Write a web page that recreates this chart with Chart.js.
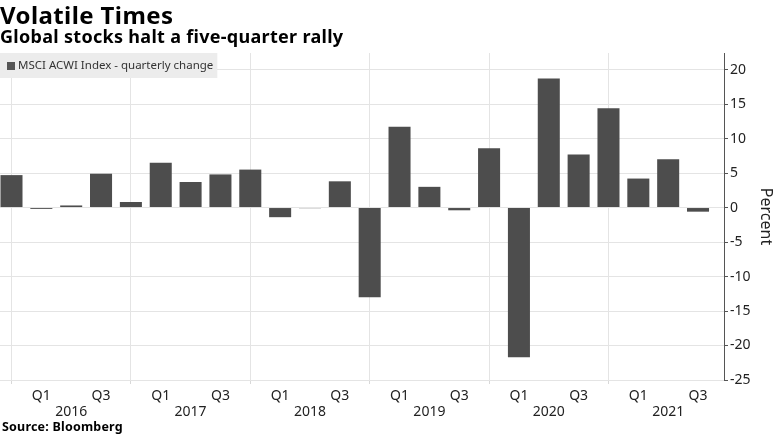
<!DOCTYPE html>
<html>
<head>
<meta charset="utf-8">
<script src="https://cdn.jsdelivr.net/npm/chart.js@4.4.1/dist/chart.umd.min.js"></script>
<style>
  body { margin: 0; background: #fff; }
  #wrap { position: relative; width: 775px; height: 435px; overflow: hidden; }
  #chart { position: absolute; left: 0; top: 0; }
  .txt { position: absolute; left: 0; line-height: 1; white-space: nowrap; font-family: "Noto Sans", sans-serif; font-weight: bold; color: #000; }
  #title { top: 3px; font-size: 24px; letter-spacing: 0.4px; }
  #subtitle { top: 27px; font-size: 18px; letter-spacing: 0.3px; }
  #source { top: 421px; left: 2px; font-size: 12.5px; letter-spacing: 0.2px; }
</style>
</head>
<body>
<div id="wrap">
  <canvas id="chart" width="775" height="435"></canvas>
  <div class="txt" id="title">Volatile Times</div>
  <div class="txt" id="subtitle">Global stocks halt a five-quarter rally</div>
  <div class="txt" id="source">Source: Bloomberg</div>
</div>
<script>
const periods = [
  '2015 Q4',
  '2016 Q1', '2016 Q2', '2016 Q3', '2016 Q4',
  '2017 Q1', '2017 Q2', '2017 Q3', '2017 Q4',
  '2018 Q1', '2018 Q2', '2018 Q3', '2018 Q4',
  '2019 Q1', '2019 Q2', '2019 Q3', '2019 Q4',
  '2020 Q1', '2020 Q2', '2020 Q3', '2020 Q4',
  '2021 Q1', '2021 Q2', '2021 Q3'
];
const changes = [
  4.7,
  -0.2, 0.3, 4.9, 0.8,
  6.5, 3.7, 4.8, 5.5,
  -1.4, -0.1, 3.8, -13.0,
  11.7, 3.0, -0.4, 8.6,
  -21.7, 18.7, 7.7, 14.4,
  4.2, 7.0, -0.6
];
const yTicks = [-25, -20, -15, -10, -5, 0, 5, 10, 15, 20];
const seriesName = 'MSCI ACWI Index - quarterly change';

const gridColor = '#e4e4e4';
const barColor = '#4d4d4d';

// legend drawn as a grey box sitting inside the plot, top-left
const legendBox = {
  id: 'legendBox',
  beforeDatasetsDraw(chart) {
    const { ctx, chartArea } = chart;
    const ds = chart.data.datasets[0];
    ctx.save();
    ctx.font = '11.5px "Noto Sans"';
    const w = ctx.measureText(ds.label).width + 22;
    ctx.fillStyle = '#ececec';
    ctx.fillRect(chartArea.left, chartArea.top, w, 25);
    ctx.fillStyle = '#555';
    ctx.fillRect(chartArea.left + 7, chartArea.top + 9, 8, 8);
    ctx.fillStyle = '#333';
    ctx.textBaseline = 'middle';
    ctx.fillText(ds.label, chartArea.left + 18, chartArea.top + 13);
    ctx.restore();
  }
};

new Chart(document.getElementById('chart'), {
  type: 'bar',
  data: {
    datasets: [{
      label: seriesName,
      data: changes.map((v, i) => ({ x: i, y: v })),
      backgroundColor: barColor,
      borderWidth: 0,
      barPercentage: 0.9,
      categoryPercentage: 0.82
    }]
  },
  options: {
    responsive: false,
    animation: false,
    layout: { padding: { top: 53, right: 0, bottom: 15, left: 0 } },
    plugins: {
      legend: { display: false },
      tooltip: { enabled: false }
    },
    scales: {
      x: {
        type: 'linear',
        offset: false,
        min: -0.385,
        max: 23.87,
        afterBuildTicks: scale => {
          scale.ticks = periods.map((p, i) => ({ value: i }));
        },
        afterFit: scale => { scale.height = 40; },
        border: { display: false },
        grid: {
          offset: false,
          color: c => (c.tick && c.tick.value % 4 === 0) ? gridColor : 'rgba(0,0,0,0)',
          tickColor: c => (c.tick && c.tick.value % 4 === 0) ? '#d8d8d8' : 'rgba(0,0,0,0)',
          tickLength: 4
        },
        ticks: {
          autoSkip: false,
          maxRotation: 0,
          minRotation: 0,
          padding: 4,
          color: '#222',
          font: { family: 'Noto Sans', size: 14, lineHeight: 1.15 },
          callback: value => {
            const [yr, q] = periods[value].split(' ');
            if (q === 'Q1' || q === 'Q3') return q;
            if (q === 'Q2') return ['', yr];
            return '';
          }
        }
      },
      y: {
        position: 'right',
        min: -25,
        max: 22.4,
        afterBuildTicks: scale => {
          const t = [];
          yTicks.forEach(v => { t.push({ value: v }); t.push({ value: v + 2.5 }); });
          scale.ticks = t;
        },
        afterFit: scale => { scale.width = 51; },
        border: { display: true, color: '#555', width: 1 },
        grid: {
          color: c => (c.tick && c.tick.value % 5 === 0) ? gridColor : 'rgba(0,0,0,0)',
          tickColor: c => (c.tick && c.tick.value % 5 === 0) ? '#555' : '#999',
          tickLength: 4
        },
        ticks: {
          padding: 2,
          color: '#222',
          font: { family: 'Noto Sans', size: 14 },
          callback: v => (v % 5 === 0 ? String(v) : '')
        },
        title: {
          display: true,
          text: 'Percent',
          color: '#222',
          padding: 0,
          font: { family: 'Noto Sans', size: 16 }
        }
      }
    }
  },
  plugins: [legendBox]
});
</script>
</body>
</html>
